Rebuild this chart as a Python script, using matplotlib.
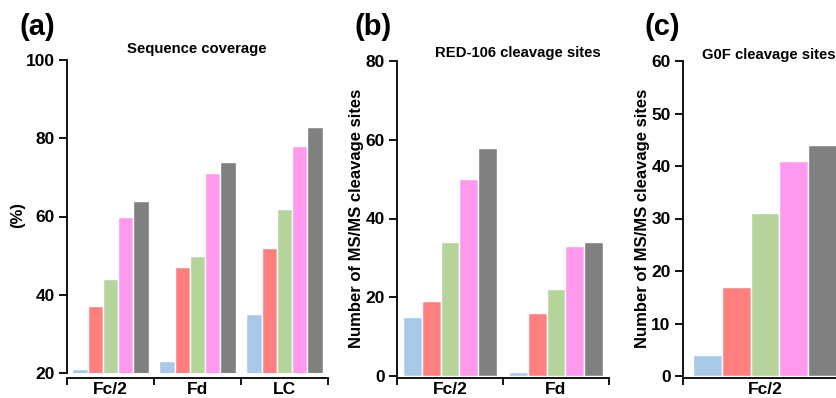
import numpy as np
import matplotlib
matplotlib.use("Agg")
import matplotlib.pyplot as plt

plt.rcParams['font.family'] = ['Liberation Sans', 'DejaVu Sans']
plt.rcParams['font.weight'] = 'bold'

colors = ['#a9c9e9', '#ff7f7f', '#b4d49c', '#ff99ee', '#808080']

# (a) sequence coverage (%)
groups_a = ['Fc/2', 'Fd', 'LC']
vals_a = [[21, 37, 44, 60, 64],
          [23, 47, 50, 71, 74],
          [35, 52, 62, 78, 83]]

# (b) RED-106 cleavage sites
groups_b = ['Fc/2', 'Fd']
vals_b = [[15, 19, 34, 50, 58],
          [1, 16, 22, 33, 34]]

# (c) G0F cleavage sites
groups_c = ['Fc/2']
vals_c = [[4, 17, 31, 41, 44]]

W, H = 836, 398
fig = plt.figure(figsize=(W / 100, H / 100), dpi=100)


def px_axes(x0, x1, ytop, ybot):
    return fig.add_axes([x0 / W, (H - ybot) / H, (x1 - x0) / W, (ybot - ytop) / H])


def draw(ax, groups, vals, ylim, yticks, offset):
    bw = 0.176
    for g, row in enumerate(vals):
        for i, v in enumerate(row):
            ax.bar(g + (i - 2) * bw, v, width=bw, color=colors[i],
                   edgecolor='white', linewidth=1.0, zorder=2)
    ax.set_xlim(-0.5, len(groups) - 0.5)
    ax.set_ylim(*ylim)
    ax.set_yticks(yticks)
    ax.set_xticks(range(len(groups)))
    ax.set_xticklabels(groups)
    ax.set_xticks(np.arange(len(groups) + 1) - 0.5, minor=True)
    ax.tick_params(axis='x', which='major', length=0, pad=3, labelsize=12.5)
    ax.tick_params(axis='x', which='minor', length=5, width=1.3, direction='out')
    ax.tick_params(axis='y', length=6, width=1.3, pad=3, labelsize=12.5)
    for s in ['top', 'right']:
        ax.spines[s].set_visible(False)
    ax.spines['left'].set_linewidth(1.3)
    ax.spines['bottom'].set_linewidth(1.3)
    ax.spines['bottom'].set_position(('outward', offset))


ax_a = px_axes(67, 328, 60, 373)
draw(ax_a, groups_a, vals_a, (20, 100), [20, 40, 60, 80, 100], 3.5)

ax_b = px_axes(397, 609, 61, 376)
draw(ax_b, groups_b, vals_b, (0, 80), [0, 20, 40, 60, 80], 1.5)

ax_c = px_axes(683, 847, 61, 376)
draw(ax_c, groups_c, vals_c, (0, 60), [0, 10, 20, 30, 40, 50, 60], 1.5)


def ftext(x, y, s, **kw):
    fig.text(x / W, 1 - y / H, s, ha='center', va='center', fontweight='bold', **kw)


ftext(37, 27, '(a)', fontsize=21)
ftext(373, 27, '(b)', fontsize=21)
ftext(662, 27, '(c)', fontsize=21)

ftext(197, 49, 'Sequence coverage', fontsize=10.7)
ftext(518, 53, 'RED-106 cleavage sites', fontsize=10.7)
ftext(769, 55, 'G0F cleavage sites', fontsize=10.7)

ftext(18, 215, '(%)', fontsize=12, rotation=90)
ftext(357, 218, 'Number of MS/MS cleavage sites', fontsize=12, rotation=90)
ftext(643, 218, 'Number of MS/MS cleavage sites', fontsize=12, rotation=90)

fig.savefig('out.png', dpi=100)
